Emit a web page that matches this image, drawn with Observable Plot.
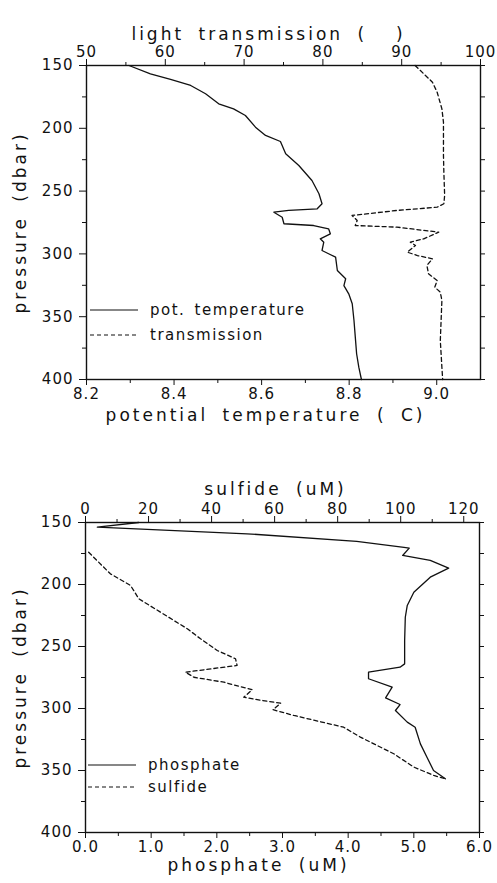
<!DOCTYPE html>
<html><head><meta charset="utf-8">
<script src="https://cdn.jsdelivr.net/npm/d3@7"></script>
<script src="https://cdn.jsdelivr.net/npm/@observablehq/plot@0.6"></script>
<style>
body{margin:0;background:#fff;}
#wrap{position:relative;width:497px;height:883px;overflow:hidden;background:#fff;}
#wrap svg{position:absolute;left:0;}
#wrap g[aria-label="text"] text{letter-spacing:3px;word-spacing:6px;white-space:pre;}
#wrap g[aria-label$="tick label"] text{letter-spacing:1px;}
#wrap .legend text{letter-spacing:1.5px;word-spacing:3px;}
</style></head><body><div id="wrap"></div>
<script>
// ---------- data: upper panel ----------
const tempPressure = [150,156.6,161.1,165.9,172.5,180.5,184.5,189.8,199.1,205.7,210.5,220.3,229.6,241.6,252.1,260.1,264.1,265.4,266.8,270.8,276.0,277.4,280,284,288,290.7,297.3,299.9,302.6,313.2,319.8,325.2,331.8,339.7,353,366.3,379.5,390.2,400];
const potTemperature = [8.297,8.346,8.392,8.438,8.472,8.502,8.536,8.563,8.586,8.609,8.643,8.655,8.685,8.715,8.731,8.738,8.727,8.662,8.628,8.647,8.651,8.719,8.753,8.757,8.734,8.742,8.738,8.753,8.769,8.773,8.792,8.788,8.799,8.807,8.811,8.814,8.817,8.822,8.828];
const transPressure = [150,156.6,163.3,171.3,184.5,195.1,208.4,221.7,234.9,253.5,260.1,262.8,265.4,269.4,273.4,277.4,278.7,282.7,288,290.7,293.3,298.6,301.3,303.9,309.2,315.8,321.2,326.5,330.5,337.1,353,368.9,390.2,400];
const transmission = [91.7,92.8,93.9,94.5,95.1,95.3,95.3,95.3,95.35,95.45,95.35,94.5,89.4,83.7,84.35,84.1,89.4,94.7,92.8,91.1,91.75,90.7,92.0,93.9,93.2,93.4,94.5,94.2,94.9,95.1,95.0,94.9,95.1,95.2];
// ---------- data: lower panel ----------
const phosPressure = [150,153.8,159.1,165.3,170,170.7,176.6,180.6,186.8,194.1,206.2,216.9,226.4,245.2,264,266.7,270.7,276,282.8,291.4,296.8,301.6,311,315.1,328.5,339.3,350,356.7];
const phosphate = [0.81,0.18,2.46,4.13,4.85,4.93,4.83,5.25,5.53,5.25,5.0,4.90,4.87,4.86,4.86,4.79,4.31,4.31,4.67,4.57,4.79,4.72,4.90,5.02,5.10,5.20,5.30,5.48];
const sulfPressure = [174,191.4,200.8,211.5,225,235.7,243.8,253.2,259.9,265.3,270.7,274.8,278.8,284.9,290.9,293.5,295.7,301.0,305.6,315.1,323.1,336.5,347.3,354,356.7];
const sulfide = [1.0,7.9,14.3,16.9,25.5,32.3,36.5,41.8,47.6,48.1,31.7,34.4,43.9,52.9,50.2,56.1,61.9,59.5,66.1,81.9,87.2,97.8,104.2,110.5,114.2];
// ---------- ticks ----------
const pressureTicks = [150,200,250,300,350,400];
const pressureMinor = [175,225,275,325,375];
const tempTicks = [8.2,8.4,8.6,8.8,9.0];
const tempMinor = [8.3,8.5,8.7,8.9];
const transTicks = [50,60,70,80,90,100];
const transMinor = [55,65,75,85,95];
const sulfTicks = [0,20,40,60,80,100,120];
const sulfMinor = [10,30,50,70,90,110];
const phosTicks = [0,1,2,3,4,5,6];
const phosMinor = [0.5,1.5,2.5,3.5,4.5,5.5];
// ---------- labels ----------
const labels = {
  trans: "light transmission (  )",
  temp: "potential temperature ( C)",
  sulf: "sulfide (uM)",
  phos: "phosphate (uM)",
  pres: "pressure (dbar)"
};
const legend1 = ["pot. temperature", "transmission"];
const legend2 = ["phosphate", "sulfide"];

const zip = (ps, vs) => ps.map((p, i) => ({p, v: vs[i]}));
const W = 497, INK = "#111", FONT = "DejaVu Sans";
const baseStyle = {fontFamily: FONT, fontSize: "15px", color: INK, background: "transparent", overflow: "visible"};
const wrap = document.getElementById("wrap");
const blank = () => "";

function panel({top, height, m, bottom, upper, bottomTitle, topTitle, yTitleDx}) {
  const dims = {width: W, height, marginTop: m.t, marginBottom: m.b, marginLeft: m.l, marginRight: m.r};
  const yScale = {domain: [150, 400], reverse: true};
  const a = Plot.plot({
    ...dims, style: baseStyle,
    x: {domain: bottom.domain}, y: yScale,
    marks: [
      Plot.frame({stroke: INK, strokeWidth: 1.4}),
      Plot.axisX(bottom.ticks, {anchor: "bottom", tickSize: 6, tickPadding: 3, tickFormat: d => d.toFixed(1), label: null}),
      Plot.axisX(bottom.minor, {anchor: "bottom", tickSize: 4, tickFormat: blank, label: null}),
      Plot.axisY(pressureTicks, {anchor: "left", tickSize: 7, tickPadding: 6, label: null}),
      Plot.axisY(pressureMinor, {anchor: "left", tickSize: 4, tickFormat: blank, label: null}),
      Plot.axisY(pressureTicks.concat(pressureMinor), {anchor: "right", tickSize: 4, tickFormat: blank, label: null}),
      Plot.line(bottom.data, {x: "v", y: "p", stroke: INK, strokeWidth: 1.3, strokeDasharray: bottom.dash}),
      Plot.text([bottomTitle.text], {frameAnchor: "bottom-left", textAnchor: "middle", dx: bottomTitle.cx - m.l, dy: bottomTitle.dy, fontSize: 17, fill: INK}),
      Plot.text([labels.pres], {frameAnchor: "left", textAnchor: "middle", dx: yTitleDx, rotate: -90, fontSize: 17, fill: INK})
    ]
  });
  const b = Plot.plot({
    ...dims, style: baseStyle,
    x: {domain: upper.domain}, y: {...yScale, axis: null},
    marks: [
      Plot.axisX(upper.ticks, {anchor: "top", tickSize: 7, tickPadding: 2, tickFormat: upper.fmt, label: null}),
      Plot.axisX(upper.minor, {anchor: "top", tickSize: 4, tickFormat: blank, label: null}),
      Plot.line(upper.data, {x: "v", y: "p", stroke: INK, strokeWidth: 1.3, strokeDasharray: upper.dash}),
      Plot.text([topTitle.text], {frameAnchor: "top-left", textAnchor: "middle", dx: topTitle.cx - m.l, dy: topTitle.dy, fontSize: 17, fill: INK})
    ]
  });
  for (const s of [a, b]) { s.style.top = top + "px"; wrap.appendChild(s); }
}

panel({
  top: 0, height: 440, m: {t: 65, b: 61, l: 86, r: 17},
  bottom: {domain: [8.2, 9.1], ticks: tempTicks, minor: tempMinor, data: zip(tempPressure, potTemperature), dash: null},
  upper: {domain: [50, 100], ticks: transTicks, minor: transMinor, fmt: d => String(d), data: zip(transPressure, transmission), dash: "4,3"},
  bottomTitle: {text: labels.temp, cx: 265, dy: 41},
  topTitle: {text: labels.trans, cx: 268, dy: -38},
  yTitleDx: -66
});
panel({
  top: 440, height: 443, m: {t: 82, b: 51, l: 85, r: 18},
  bottom: {domain: [0, 6], ticks: phosTicks, minor: phosMinor, data: zip(phosPressure, phosphate), dash: null},
  upper: {domain: [0, 125], ticks: sulfTicks, minor: sulfMinor, fmt: d => String(d), data: zip(sulfPressure, sulfide), dash: "4,3"},
  bottomTitle: {text: labels.phos, cx: 258, dy: 38},
  topTitle: {text: labels.sulf, cx: 275, dy: -40},
  yTitleDx: -65
});

// legends
function legend(top, x0, names, rowGap) {
  const svg = d3.select(wrap).append("svg").attr("class", "legend").attr("width", 240).attr("height", 50)
    .style("top", top + "px").style("left", x0 + "px").style("overflow", "visible");
  names.forEach((n, i) => {
    const y = 10 + i * rowGap;
    svg.append("line").attr("x1", 0).attr("x2", 48).attr("y1", y).attr("y2", y)
      .attr("stroke", INK).attr("stroke-width", 1.2).attr("stroke-dasharray", i ? "4,3" : null);
    svg.append("text").attr("x", 60).attr("y", y).attr("dy", "0.35em")
      .attr("font-family", FONT).attr("font-size", 15).attr("fill", INK).text(n);
  });
}
legend(300, 90, legend1, 25);
legend(755, 88, legend2, 22);
</script></body></html>
